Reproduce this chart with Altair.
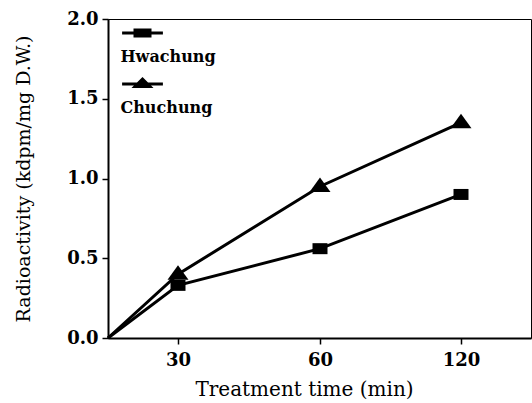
import altair as alt
import pandas as pd

times = [0, 30, 60, 120]
hwachung = [0.0, 0.33, 0.56, 0.90]
chuchung = [0.0, 0.40, 0.95, 1.35]
varieties = ["Hwachung", "Chuchung"]

rows = []
for t, v in zip(times, hwachung):
    rows.append({"time": t, "value": v, "variety": "Hwachung"})
for t, v in zip(times, chuchung):
    rows.append({"time": t, "value": v, "variety": "Chuchung"})
df = pd.DataFrame(rows)
pts = df[df["time"] > 0]

FONT = "DejaVu Serif"

RECT = "M-0.75,-0.55H0.75V0.55H-0.75Z"
TRI = "M0,-0.9L1.05,0.55L-1.05,0.55Z"
LEG_RECT = ("M-0.85,-1.06H0.85V-0.94H-0.85Z"
            "M-0.375,-1.19H0.375V-0.81H-0.375Z")
LEG_TRI = ("M-0.85,-1.06H0.85V-0.94H-0.85Z"
           "M0,-1.29L0.46,-0.83L-0.46,-0.83Z")

x_scale = alt.Scale(domain=[0, 30, 60, 120, 150], range=[0, 70, 212, 353, 423],
                    nice=False, zero=False)
y_scale = alt.Scale(domain=[0, 2], nice=False)

x_enc = alt.X("time:Q", scale=x_scale,
              axis=alt.Axis(values=[30, 60, 120], title="Treatment time (min)",
                            grid=False, labelFont=FONT, labelFontSize=18,
                            labelFontWeight="bold", labelColor="black",
                            titleFont=FONT, titleFontSize=20, titleFontWeight="normal",
                            titleColor="black", domainColor="black", domainWidth=2,
                            tickColor="black", tickWidth=1.5, tickSize=6,
                            labelPadding=7, titlePadding=10, titleX=196))
y_enc = alt.Y("value:Q", scale=y_scale,
              axis=alt.Axis(values=[0, 0.5, 1.0, 1.5, 2.0], format=".1f",
                            title="Radioactivity (kdpm/mg D.W.)", grid=False,
                            labelFont=FONT, labelFontSize=18, labelFontWeight="bold",
                            labelColor="black", titleFont=FONT, titleFontSize=19,
                            titleFontWeight="normal", titleColor="black",
                            domainColor="black", domainWidth=2, tickColor="black",
                            tickWidth=1.5, tickSize=6, labelPadding=4, titlePadding=33))

lines = alt.Chart(df).mark_line(color="black", strokeWidth=3).encode(
    x=x_enc, y=y_enc, detail="variety:N")

points = alt.Chart(pts).mark_point(filled=True, color="black", size=400, opacity=1).encode(
    x="time:Q", y="value:Q",
    shape=alt.Shape("variety:N", scale=alt.Scale(domain=varieties, range=[RECT, TRI]),
                    legend=None))

legend_layer = alt.Chart(pts).mark_point(
    filled=True, color="black", size=2304, clip=True, opacity=1).encode(
    x=alt.value(-200), y=alt.value(-200),
    shape=alt.Shape("variety:N", scale=alt.Scale(domain=varieties, range=[LEG_RECT, LEG_TRI]),
                    legend=alt.Legend(title=None, orient="none", legendX=10.5, legendY=14,
                                      symbolSize=2304, symbolFillColor="black",
                                      symbolStrokeWidth=0,
                                      labelFont=FONT, labelFontSize=16,
                                      labelFontWeight="bold", labelColor="black",
                                      labelOffset={"expr": "-46"}, rowPadding=12,
                                      padding=0)))

chart = alt.layer(lines, points, legend_layer).resolve_scale(shape="independent").properties(
    width=423, height=319, autosize="none",
    padding={"left": 108, "top": 19, "right": 1, "bottom": 65},
    background="white",
).configure_view(stroke="black", strokeWidth=1)

chart.save("out.html", embed_options={"renderer": "svg", "actions": False})
